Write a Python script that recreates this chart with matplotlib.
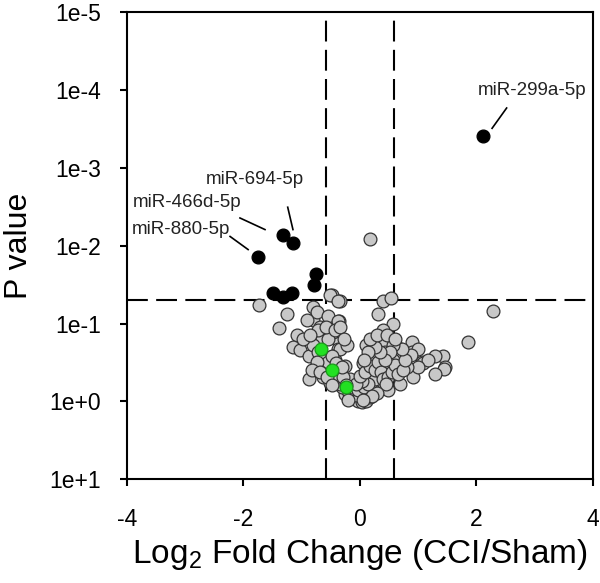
import numpy as np
import matplotlib
matplotlib.use('Agg')
import matplotlib.pyplot as plt
from matplotlib.ticker import FixedLocator, NullLocator

plt.rcParams['font.family'] = ['Liberation Sans', 'DejaVu Sans']
plt.rcParams['mathtext.fontset'] = 'custom'
plt.rcParams['mathtext.rm'] = 'Liberation Sans'

# non significant miRNAs (log2 fold change, p value)
gray_fc = [
    0.17, 2.28, 1.85, 1.42, 1.29, 1.06, 1.46, 0.89, 0.89, 1.08, 1.44, 1.29, 0.91, 0.69, 0.48,
    1.00, 1.17, 1.00,
    -0.48, -0.34, 0.39, 0.53, 0.31, -0.36, 0.57, 0.39, 0.26, 0.10, 0.43, 0.64, 0.70, 0.88,
    0.17, 0.22, 0.31, 0.05, 0.12, 0.29, 0.34, 0.46, 0.64, 0.81, 0.57, 0.43, 0.22, 0.17,
    0.00, -0.14, 0.12, 0.22, -0.39, -0.38, -0.46,
    -1.73, -1.25, -1.39, -1.08, -1.15, -1.03, -0.88, -0.88, -0.81, -0.81, -0.74, -0.52, -0.38,
    -0.55, -0.38, -0.46, -0.65, -0.81, -0.60, -0.43, -0.34, -0.22, -0.26, -0.64, -0.52, -0.39,
    -0.17, 0.00, -0.09, 0.09, 0.17, 0.26, -0.91, -0.98, -0.69, -0.55,
    -0.26, -0.17, -0.09, -0.03, 0.03, 0.10, 0.17, 0.03, -0.07, -0.21, -0.31, -0.34, -0.14,
    -0.03, 0.07, 0.14, 0.03, -0.07, 0.00, 0.09, 0.17, 0.26, 0.31, 0.36, 0.39, 0.48, 0.55,
    0.60, 0.65, 0.74, 0.77, 0.72, 0.57, 0.52, 0.43, 0.34, 0.26, 0.14, 0.07, 0.17, 0.29,
    0.46, 0.60,
    -0.72, -0.65, -0.60, -0.52, -0.55, -0.43, -0.38, -0.29, -0.24, -0.48, -0.41, -0.31,
    -0.74, -0.82, -0.69, -0.57, -0.48, -0.72, -0.58, -0.43, -0.34, -0.27, -0.86,
    0.45, 0.30, 0.20, -0.20, 0.05,
]
gray_p = [
    0.0081, 0.068, 0.17, 0.26, 0.26, 0.31, 0.36, 0.17, 0.23, 0.32, 0.38, 0.45, 0.48, 0.60, 0.71,
    0.21, 0.29, 0.36,
    0.043, 0.052, 0.052, 0.047, 0.076, 0.093, 0.10, 0.12, 0.16, 0.19, 0.17, 0.20, 0.25, 0.25,
    0.43, 0.32, 0.26, 0.32, 0.52, 0.60, 0.48, 0.39, 0.35, 0.36, 0.29, 0.23, 0.20, 0.25,
    0.71, 0.81, 0.76, 0.71, 0.16, 0.21, 0.26,
    0.058, 0.076, 0.115, 0.14, 0.20, 0.22, 0.26, 0.51, 0.062, 0.089, 0.072, 0.043, 0.052,
    0.081, 0.093, 0.13, 0.16, 0.19, 0.28, 0.29, 0.21, 0.19, 0.35, 0.48, 0.58, 0.52,
    0.52, 0.87, 0.74, 0.71, 0.65, 0.52, 0.089, 0.16, 0.11, 0.16,
    0.81, 0.89, 0.93, 1.00, 1.02, 0.98, 0.89, 0.83, 0.83, 0.74, 0.66, 0.59, 0.66,
    0.71, 0.66, 0.59, 0.55, 0.59, 0.47, 0.42, 0.35, 0.39, 0.31, 0.42, 0.52, 0.49, 0.42,
    0.34, 0.45, 0.39, 0.29, 0.21, 0.19, 0.23, 0.29, 0.23, 0.20, 0.23, 0.29, 0.16, 0.14,
    0.14, 0.16,
    0.23, 0.29, 0.34, 0.39, 0.31, 0.42, 0.47, 0.49, 0.62, 0.26, 0.32, 0.36,
    0.31, 0.39, 0.42, 0.49, 0.62, 0.12, 0.11, 0.12, 0.11, 0.16, 0.14,
    0.60, 0.78, 0.85, 0.95, 0.95,
]

# significant miRNAs
black_fc = [2.11, -1.32, -1.15, -1.75, -1.49, -1.32, -1.17, -0.76, -0.79]
black_p = [3.9e-4, 0.0073, 0.0091, 0.0138, 0.040, 0.045, 0.040, 0.023, 0.032]

# highlighted miRNAs
green_fc = [-0.67, -0.48, -0.24]
green_p = [0.21, 0.40, 0.65]

fc_cut = 0.585
p_cut = 0.05

labels = ['miR-299a-5p', 'miR-694-5p', 'miR-466d-5p', 'miR-880-5p']
label_xy = [(2.95, 1.0e-4), (-1.80, 1.4e-3), (-2.97, 2.8e-3), (-3.07, 6.2e-3)]
line_start = [(2.52, 1.7e-4), (-1.24, 3.2e-3), (-2.06, 4.4e-3), (-2.23, 7.6e-3)]
line_end = [(2.27, 3.1e-4), (-1.15, 6.2e-3), (-1.63, 6.2e-3), (-1.92, 1.12e-2)]

yticks = [1e-5, 1e-4, 1e-3, 1e-2, 1e-1, 1e0, 1e1]
yticklabels = ['1e-5', '1e-4', '1e-3', '1e-2', '1e-1', '1e+0', '1e+1']

fig = plt.figure(figsize=(6, 5.83), dpi=100)
ax = fig.add_axes([0.2117, 0.178, 0.7763, 0.801])

dash = (0, (10, 4))
ax.axvline(-fc_cut, color='black', lw=1.5, ls=dash, zorder=1)
ax.axvline(fc_cut, color='black', lw=1.5, ls=dash, zorder=1)
ax.axhline(p_cut, color='black', lw=1.5, ls=dash, zorder=1)

ax.scatter(gray_fc, gray_p, s=85, c='#c8c8c8', edgecolors='#333333', linewidths=0.9, zorder=2)
ax.scatter(green_fc, green_p, s=85, c='#22e022', edgecolors='#1a9a1a', linewidths=0.9, zorder=3)
ax.scatter(black_fc, black_p, s=85, c='black', edgecolors='black', linewidths=0.9, zorder=3)

for lab, xy, a, b in zip(labels, label_xy, line_start, line_end):
    ax.text(xy[0], xy[1], lab, fontsize=13.5, ha='center', va='center', color='#222222')
    ax.plot([a[0], b[0]], [a[1], b[1]], color='black', lw=1.2)

ax.set_yscale('log')
ax.set_ylim(10, 1e-5)
ax.set_xlim(-4, 4)
ax.yaxis.set_major_locator(FixedLocator(yticks))
ax.set_yticklabels(yticklabels)
ax.yaxis.set_minor_locator(NullLocator())
ax.set_xticks([-4, -2, 0, 2, 4])
ax.set_xticklabels(['-4', '-2', '0', '2', '4'])

for sp in ax.spines.values():
    sp.set_linewidth(1.5)
ax.tick_params(direction='out', length=5, width=1.5, labelsize=16.5)
ax.tick_params(axis='y', pad=14)
ax.tick_params(axis='x', pad=16)

ax.set_xlabel(r'Log$_{\mathregular{2}}$ Fold Change (CCI/Sham)', fontsize=24, labelpad=4)
ax.set_ylabel('P value', fontsize=23, labelpad=11)

fig.savefig('out.png', dpi=100)
